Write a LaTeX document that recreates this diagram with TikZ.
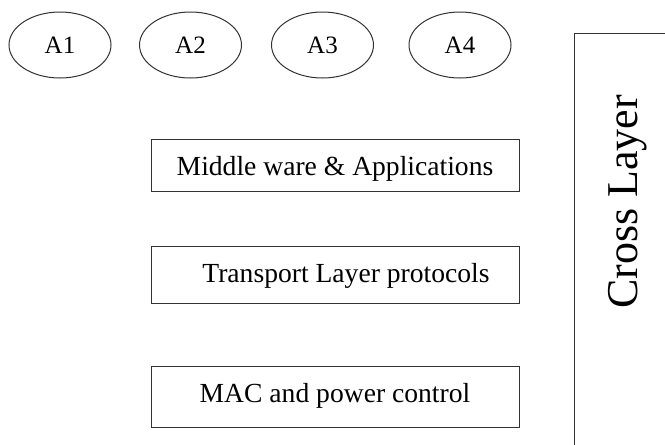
\documentclass[tikz,border=0pt]{standalone}
\usepackage{fontspec}
\setmainfont{Liberation Serif}
\usetikzlibrary{shapes.geometric}
\begin{document}
\begin{tikzpicture}[x=1pt,y=-1pt,
  line width=1pt,
  app/.style={draw=black!80, ellipse, minimum width=102pt, minimum height=66pt,
    inner sep=0pt, font=\fontsize{25}{30}\selectfont, text height=16pt, text depth=0pt},
  layerbox/.style={draw=black!80, rectangle, minimum width=368pt, inner sep=0pt,
    font=\fontsize{27.6}{33}\selectfont},
]
\useasboundingbox (0,0) rectangle (665,445);
\clip (0,0) rectangle (665,445);

% application nodes
\node[app] (a1) at (60,45) {A1};
\node[app] (a2) at (190.5,45) {A2};
\node[app] (a3) at (322.5,45) {A3};
\node[app] (a4) at (460,45) {A4};

% protocol stack
\node[layerbox, minimum height=52pt, text height=20pt, text depth=0pt]
  (mw) at (335,165) {Middle ware \& Applications};
\node[layerbox, minimum height=57pt, text height=17.5pt, text depth=2.5pt]
  (tl) at (335,274.5) {\hspace{22pt}Transport Layer protocols};
\node[layerbox, minimum height=61pt, text height=15pt, text depth=4pt]
  (mac) at (335,396.5) {MAC and power control};

% cross-layer column running off the page
\node[draw=black!80, rectangle, anchor=north west, minimum width=100pt,
  minimum height=420pt, inner sep=0pt] (cross) at (574,33) {};
\node[rotate=90, anchor=base, inner sep=0pt, font=\fontsize{44}{50}\selectfont]
  (crosslabel) at (637,202) {Cross Layer};
\end{tikzpicture}
\end{document}
